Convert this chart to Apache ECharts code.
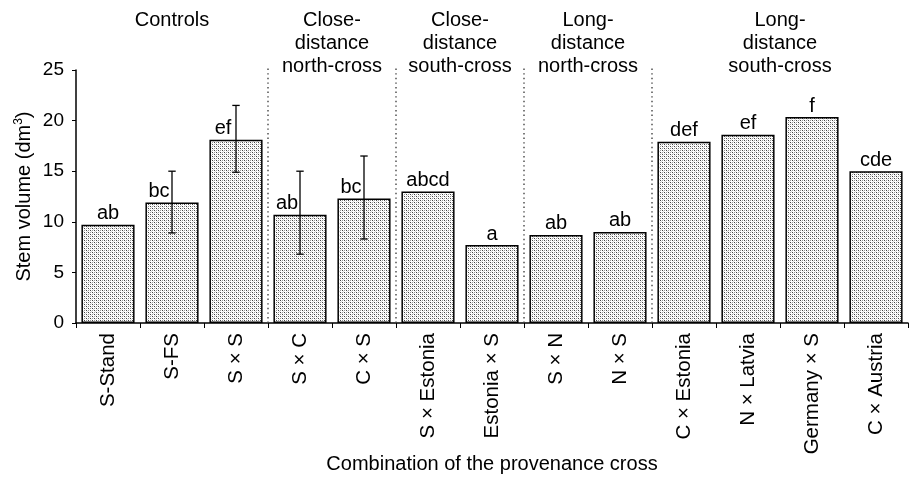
<!DOCTYPE html>
<html>
<head>
<meta charset="utf-8">
<script src="https://cdn.jsdelivr.net/npm/echarts@6/dist/echarts.min.js"></script>
<style>
html,body{margin:0;padding:0;background:#fff;}
#c{width:912px;height:477px;}
</style>
</head>
<body>
<div id="c"></div>
<script>
// ---- data ----
const categories = ['S-Stand', 'S-FS', 'S × S', 'S × C', 'C × S', 'S × Estonia', 'Estonia × S', 'S × N', 'N × S', 'C × Estonia', 'N × Latvia', 'Germany × S', 'C × Austria'];
const volumes = [9.7, 11.9, 18.1, 10.7, 12.3, 13.0, 7.7, 8.7, 9.0, 17.9, 18.6, 20.35, 15.0];
const letters = ['ab', 'bc', 'ef', 'ab', 'bc', 'abcd', 'a', 'ab', 'ab', 'def', 'ef', 'f', 'cde'];
const errLow = [null, 8.9, 14.9, 6.8, 8.3, null, null, null, null, null, null, null, null];
const errHigh = [null, 15.0, 21.5, 15.0, 16.5, null, null, null, null, null, null, null, null];
const groupNames = ['Controls', 'Close-\ndistance\nnorth-cross', 'Close-\ndistance\nsouth-cross', 'Long-\ndistance\nnorth-cross', 'Long-\ndistance\nsouth-cross'];
const groupStart = [0, 3, 5, 7, 9];
const groupEnd = [3, 5, 7, 9, 13];
const separators = [3, 5, 7, 9];
const separatorTop = 25.3;
const yTicks = [0, 5, 10, 15, 20, 25];

const FONT = "'Liberation Sans', Arial, Helvetica, sans-serif";

// stipple fill pattern
const pc = document.createElement('canvas');
pc.width = 4; pc.height = 4;
const px = pc.getContext('2d');
px.fillStyle = '#ffffff'; px.fillRect(0, 0, 4, 4);
px.fillStyle = '#444444'; px.fillRect(0, 0, 1, 1); px.fillRect(2, 2, 1, 1);
px.fillStyle = '#999999'; px.fillRect(2, 0, 1, 1); px.fillRect(0, 2, 1, 1);
px.fillStyle = '#d8d8d8'; px.fillRect(1, 1, 1, 1); px.fillRect(3, 3, 1, 1);

const chart = echarts.init(document.getElementById('c'), null, {renderer: 'canvas'});

const barData = volumes.map((v, i) => ({
  value: v,
  label: {formatter: letters[i], offset: errHigh[i] != null ? [-13, 0] : [0, 0]}
}));

const errData = [];
for (let i = 0; i < categories.length; i++) {
  if (errLow[i] != null) errData.push([i, errLow[i], errHigh[i]]);
}

chart.setOption({
  animation: false,
  backgroundColor: '#ffffff',
  textStyle: {fontFamily: FONT, color: '#000'},
  grid: {left: 76, right: 4, top: 70, bottom: 154, containLabel: false, outerBoundsMode: 'none'},
  xAxis: [{
    type: 'category',
    data: categories,
    boundaryGap: true,
    axisLine: {lineStyle: {color: '#000', width: 1.5}},
    axisTick: {show: true, length: 5, lineStyle: {color: '#000', width: 1}},
    axisLabel: {rotate: 90, margin: 10, fontSize: 20.5, color: '#000', fontFamily: FONT},
    name: 'Combination of the provenance cross',
    nameLocation: 'middle',
    nameGap: 131,
    nameMoveOverlap: false,
    nameTextStyle: {fontSize: 20, color: '#000', fontFamily: FONT}
  }, {
    type: 'value',
    min: 0, max: 13,
    show: false
  }],
  yAxis: {
    type: 'value',
    min: 0, max: 25, interval: 5,
    axisLine: {show: true, lineStyle: {color: '#000', width: 1.5}},
    axisTick: {show: true, length: 4, lineStyle: {color: '#000'}},
    splitLine: {show: false},
    axisLabel: {fontSize: 19, color: '#000', margin: 12, fontFamily: FONT,
      formatter: v => yTicks.includes(v) ? String(v) : ''},
    name: '{a|Stem volume (dm}{s|3}{a|)}',
    nameLocation: 'middle',
    nameGap: 41,
    nameMoveOverlap: false,
    nameTextStyle: {
      rich: {
        a: {fontSize: 20, fontFamily: FONT, color: '#000', lineHeight: 22},
        s: {fontSize: 12, fontFamily: FONT, color: '#000', verticalAlign: 'top', lineHeight: 22, padding: [0, 0, 8, 0]}
      }
    }
  },
  series: [{
    type: 'bar',
    data: barData,
    barCategoryGap: '17%',
    itemStyle: {color: {image: pc, repeat: 'repeat'}, borderColor: '#000', borderWidth: 1.5},
    label: {show: true, position: 'top', distance: 1, fontSize: 20, color: '#000', fontFamily: FONT},
    z: 2
  }, {
    type: 'custom',
    data: errData,
    z: 5,
    renderItem: function (params, api) {
      const x = api.value(0);
      const lo = api.coord([x, api.value(1)]);
      const hi = api.coord([x, api.value(2)]);
      const cx = lo[0];
      const hw = 3.7;
      const st = {stroke: '#000', lineWidth: 1.3};
      return {
        type: 'group',
        children: [
          {type: 'line', shape: {x1: cx, y1: lo[1], x2: cx, y2: hi[1]}, style: st},
          {type: 'line', shape: {x1: cx - hw, y1: lo[1], x2: cx + hw, y2: lo[1]}, style: st},
          {type: 'line', shape: {x1: cx - hw, y1: hi[1], x2: cx + hw, y2: hi[1]}, style: st}
        ]
      };
    }
  }, {
    type: 'custom',
    xAxisIndex: 1,
    yAxisIndex: 0,
    data: separators.map(s => [s, 0, separatorTop]),
    z: 1,
    clip: false,
    renderItem: function (params, api) {
      const b = api.coord([api.value(0), api.value(1)]);
      const t = api.coord([api.value(0), api.value(2)]);
      return {
        type: 'line',
        shape: {x1: b[0], y1: b[1], x2: t[0], y2: t[1]},
        style: {stroke: '#444', lineWidth: 1.4, lineDash: [1.4, 3.2]}
      };
    }
  }]
});

// group headers positioned through the hidden value axis
const graphics = groupNames.map((g, i) => {
  const cx = chart.convertToPixel({xAxisIndex: 1}, (groupStart[i] + groupEnd[i]) / 2);
  return {
    type: 'text',
    x: cx,
    y: 9,
    style: {
      text: g,
      fontSize: 20,
      fontFamily: FONT,
      fill: '#000',
      textAlign: 'center',
      textVerticalAlign: 'top',
      lineHeight: 23
    }
  };
});
chart.setOption({graphic: graphics});
</script>
</body>
</html>
